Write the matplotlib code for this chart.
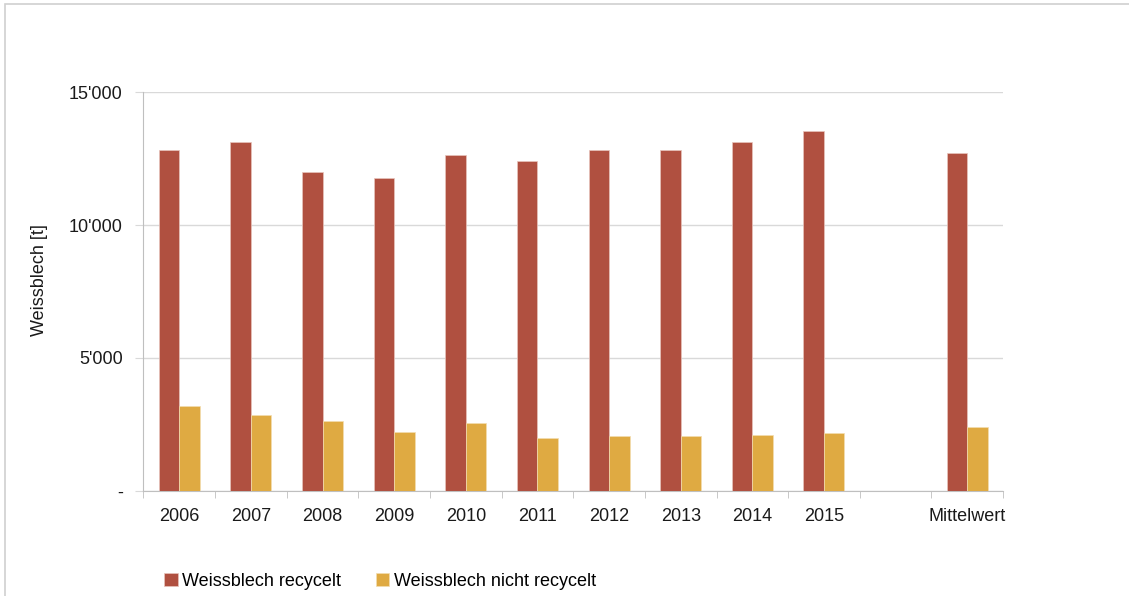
import matplotlib
matplotlib.use("Agg")
import matplotlib.pyplot as plt
import matplotlib.ticker as mticker
from matplotlib.patches import Rectangle
import numpy as np

plt.rcParams['font.family'] = ['Liberation Sans', 'DejaVu Sans']

categories = ["2006", "2007", "2008", "2009", "2010", "2011", "2012", "2013",
              "2014", "2015", "", "Mittelwert"]
recycelt = [12810, 13130, 12000, 11760, 12620, 12420, 12820, 12820,
            13120, 13520, np.nan, 12700]
nicht_recycelt = [3195, 2860, 2630, 2220, 2560, 1990, 2070, 2070,
                  2115, 2180, np.nan, 2395]
yticks = [0, 5000, 10000, 15000]
ytick_labels = ["-", "5'000", "10'000", "15'000"]

RED = "#B05040"
YELLOW = "#DFAA42"
GRID = "#D9D9D9"
AXIS = "#BFBFBF"

fig = plt.figure(figsize=(11.29, 5.96), dpi=100, facecolor="white")
ax = fig.add_axes([0.1271, 0.1762, 0.7613, 0.6694])

x = np.arange(len(categories))
w = 0.286
ax.bar(x - w / 2, recycelt, w, color=RED, edgecolor="#E8C4BC", linewidth=0.5,
       label="Weissblech recycelt", zorder=3)
ax.bar(x + w / 2, nicht_recycelt, w, color=YELLOW, edgecolor="#F3DDB0", linewidth=0.5,
       label="Weissblech nicht recycelt", zorder=3)

ax.set_xlim(-0.5, len(categories) - 0.5)
ax.set_ylim(0, 15000)
ax.set_yticks(yticks)
ax.set_yticklabels(ytick_labels)
ax.yaxis.grid(True, color=GRID, linewidth=1)
ax.set_axisbelow(True)

ax.set_xticks(x)
ax.set_xticklabels(categories)
ax.xaxis.set_minor_locator(mticker.FixedLocator(np.arange(-0.5, len(categories), 1)))
ax.tick_params(axis="x", which="major", length=0, pad=12, labelsize=13, colors="#1a1a1a")
ax.tick_params(axis="x", which="minor", length=5, color=AXIS, direction="out")
ax.tick_params(axis="y", length=6, color=GRID, pad=9, labelsize=13, colors="#1a1a1a")

for side in ("top", "right"):
    ax.spines[side].set_visible(False)
ax.spines["left"].set_color(AXIS)
ax.spines["bottom"].set_color(AXIS)

fig.text(40 / 1129, 1 - 280 / 596, "Weissblech [t]", rotation=90,
         ha="center", va="center", fontsize=13, color="#1a1a1a")

leg = fig.legend(loc="center left", bbox_to_anchor=(0.131, 1 - 581 / 596), ncol=2,
                 frameon=False, fontsize=13, handlelength=0.75, handleheight=0.75,
                 handletextpad=0.25, columnspacing=1.9)

# outer chart frame
fig.patches.append(Rectangle((5 / 1129, -0.1), 1.2, 1 - 4 / 596 + 0.1,
                             transform=fig.transFigure, fill=False,
                             edgecolor="#D0D0D0", linewidth=1.2))

fig.savefig("out.png", dpi=100, facecolor="white")
